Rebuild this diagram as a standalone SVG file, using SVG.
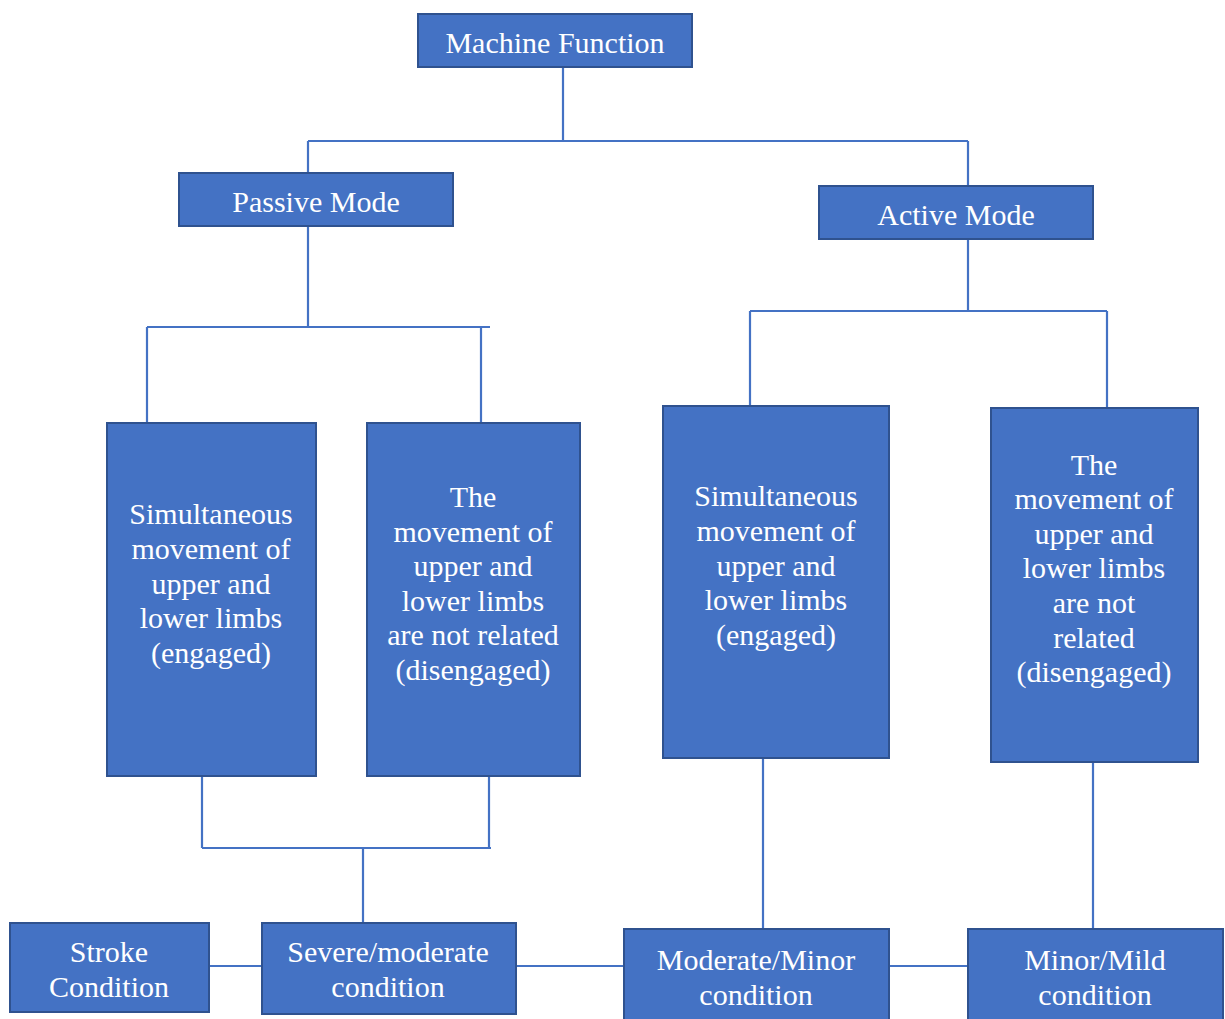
<svg xmlns="http://www.w3.org/2000/svg" width="1225" height="1019" viewBox="0 0 1225 1019">
<style>
.box{fill:#4472C4;stroke:#2F528F;stroke-width:2}
.t{font-family:"Liberation Serif","Times New Roman",serif;font-size:30px;fill:#FFFFFF;text-anchor:middle}
.c{stroke:#4472C4;stroke-width:2.2;fill:none}
</style>
<rect width="1225" height="1019" fill="#FFFFFF"/>
<g id="connectors">
<path class="c" d="M563 67V141M308 141H968M308 141V173M968 141V186"/>
<path class="c" d="M308 226V327M147 327H490M147 327V423M481 327V423"/>
<path class="c" d="M968 239V311M750 311H1107M750 311V406M1107 311V408"/>
<path class="c" d="M202 776V848M489 776V848M202 848H491M363 848V923"/>
<path class="c" d="M763 758V929M1093 762V929"/>
<path class="c" d="M209 966H262M516 966H624M889 966H968"/>
</g>
<g id="machine-function"><rect class="box" x="418" y="14" width="274" height="53"/><text class="t" x="555" y="53">Machine Function</text></g>
<g id="passive-mode"><rect class="box" x="179" y="173" width="274" height="53"/><text class="t" x="316" y="212">Passive Mode</text></g>
<g id="active-mode"><rect class="box" x="819" y="186" width="274" height="53"/><text class="t" x="956" y="225">Active Mode</text></g>
<g id="passive-engaged"><rect class="box" x="107" y="423" width="209" height="353"/>
<text class="t" x="211"><tspan x="211" y="524">Simultaneous</tspan><tspan x="211" y="559">movement of</tspan><tspan x="211" y="594">upper and</tspan><tspan x="211" y="628">lower limbs</tspan><tspan x="211" y="663">(engaged)</tspan></text></g>
<g id="passive-disengaged"><rect class="box" x="367" y="423" width="213" height="353"/>
<text class="t" x="473"><tspan x="473" y="507">The</tspan><tspan x="473" y="542">movement of</tspan><tspan x="473" y="576">upper and</tspan><tspan x="473" y="611">lower limbs</tspan><tspan x="473" y="645">are not related</tspan><tspan x="473" y="680">(disengaged)</tspan></text></g>
<g id="active-engaged"><rect class="box" x="663" y="406" width="226" height="352"/>
<text class="t" x="776"><tspan x="776" y="506">Simultaneous</tspan><tspan x="776" y="541">movement of</tspan><tspan x="776" y="576">upper and</tspan><tspan x="776" y="610">lower limbs</tspan><tspan x="776" y="645">(engaged)</tspan></text></g>
<g id="active-disengaged"><rect class="box" x="991" y="408" width="207" height="354"/>
<text class="t" x="1094"><tspan x="1094" y="475">The</tspan><tspan x="1094" y="509">movement of</tspan><tspan x="1094" y="544">upper and</tspan><tspan x="1094" y="578">lower limbs</tspan><tspan x="1094" y="613">are not</tspan><tspan x="1094" y="648">related</tspan><tspan x="1094" y="682">(disengaged)</tspan></text></g>
<g id="stroke-condition"><rect class="box" x="10" y="923" width="199" height="89"/>
<text class="t" x="109"><tspan x="109" y="962">Stroke</tspan><tspan x="109" y="997">Condition</tspan></text></g>
<g id="severe-moderate"><rect class="box" x="262" y="923" width="254" height="91"/>
<text class="t" x="388"><tspan x="388" y="962">Severe/moderate</tspan><tspan x="388" y="997">condition</tspan></text></g>
<g id="moderate-minor"><rect class="box" x="624" y="929" width="265" height="100"/>
<text class="t" x="756"><tspan x="756" y="970">Moderate/Minor</tspan><tspan x="756" y="1005">condition</tspan></text></g>
<g id="minor-mild"><rect class="box" x="968" y="929" width="255" height="100"/>
<text class="t" x="1095"><tspan x="1095" y="970">Minor/Mild</tspan><tspan x="1095" y="1005">condition</tspan></text></g>
</svg>
